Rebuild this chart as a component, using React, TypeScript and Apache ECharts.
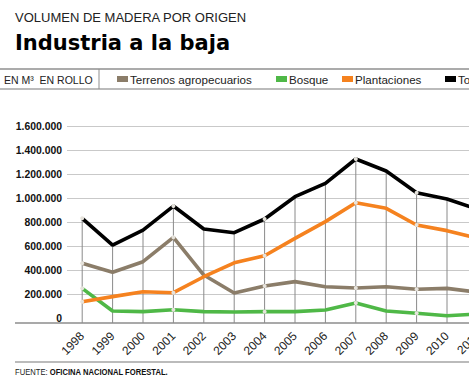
import React, { useEffect, useRef } from "react";
import * as echarts from "echarts";

const categories = ["1998", "1999", "2000", "2001", "2002", "2003", "2004", "2005", "2006", "2007", "2008", "2009", "2010", "2011"];
const terrenos = [456000, 381000, 469000, 672000, 358000, 208000, 267000, 303000, 261000, 250000, 261000, 239000, 247000, 215000];
const bosque = [247000, 58000, 53000, 69000, 53000, 50000, 53000, 53000, 67000, 125000, 58000, 39000, 19000, 33000];
const plantaciones = [136000, 178000, 219000, 211000, 344000, 460000, 519000, 664000, 803000, 961000, 914000, 775000, 728000, 665000];
const total = [831000, 608000, 733000, 933000, 742000, 711000, 825000, 1011000, 1122000, 1325000, 1225000, 1044000, 992000, 907000];
const yTicks = [0, 200000, 400000, 600000, 800000, 1000000, 1200000, 1400000, 1600000];
const markedIdx = [0, 3, 6, 9, 11];

const seriesNames = ["Terrenos agropecuarios", "Bosque", "Plantaciones", "Total"];
const seriesColors = ["#8b7d69", "#4fb847", "#f5821f", "#000000"];
const seriesData = [terrenos, bosque, plantaciones, total];
const legendLeft = [117, 276, 342, 445];

const fmt = (v: number) => String(v).replace(/\B(?=(\d{3})+(?!\d))/g, ".");

export default function App() {
  const ref = useRef<HTMLDivElement>(null);
  useEffect(() => {
    if (!ref.current) return;
    const chart = echarts.init(ref.current, null, { renderer: "svg" });
    const lineSeries = seriesNames.map((name, s) => ({
      name,
      type: "line",
      z: 3 + s,
      color: seriesColors[s],
      symbol: "circle",
      symbolSize: 4,
      showSymbol: true,
      showAllSymbol: true,
      lineStyle: { width: 3.6, color: seriesColors[s] },
      itemStyle: { color: seriesColors[s] },
      emphasis: { disabled: true },
      data: seriesData[s].map((v, i) =>
        markedIdx.includes(i)
          ? { value: v, itemStyle: { color: "#e6e3dc", borderWidth: 0 } }
          : { value: v, symbol: "none" }
      ),
    }));
    const option: any = {
      animation: false,
      backgroundColor: "#ffffff",
      textStyle: { fontFamily: "'Liberation Sans', Arial, sans-serif" },
      grid: { left: 67, right: 27.4, top: 126, bottom: 60, outerBoundsMode: "none", containLabel: false },
      legend: seriesNames.map((name, s) => ({
        data: [name],
        left: legendLeft[s],
        top: 73,
        icon: "rect",
        itemWidth: 11,
        itemHeight: 6,
        padding: 0,
        selectedMode: false,
        itemStyle: { borderWidth: 0 },
        lineStyle: { width: 0 },
        textStyle: { fontSize: 11.6, color: "#222", padding: [0, 0, 0, -3], fontFamily: "'Liberation Sans', Arial, sans-serif" },
      })),
      xAxis: {
        type: "category",
        data: categories,
        boundaryGap: true,
        offset: 5,
        axisLine: { show: false },
        axisTick: { show: false },
        splitLine: { show: false },
        axisLabel: {
          interval: 0,
          rotate: 45,
          margin: 11,
          fontSize: 12,
          color: "#222",
          fontFamily: "'Liberation Sans', Arial, sans-serif",
        },
      },
      yAxis: {
        type: "value",
        min: yTicks[0],
        max: yTicks[yTicks.length - 1],
        interval: yTicks[1] - yTicks[0],
        axisLine: { show: false },
        axisTick: { show: false },
        axisLabel: {
          margin: 5,
          fontSize: 10.4,
          fontWeight: "bold",
          color: "#111",
          formatter: (v: number) => fmt(v),
          fontFamily: "'Liberation Sans', Arial, sans-serif",
        },
        splitLine: {
          show: true,
          lineStyle: {
            color: yTicks.map((t) => (t === 0 ? "rgba(0,0,0,0)" : "#c9c9c9")),
            width: 1,
          },
        },
      },
      graphic: [
        { type: "line", shape: { x1: 0, y1: 69, x2: 520, y2: 69 }, style: { stroke: "#8f8f8f", lineWidth: 1.5 } },
        { type: "line", shape: { x1: 0, y1: 89, x2: 520, y2: 89 }, style: { stroke: "#a5a5a5", lineWidth: 1.5 } },
        { type: "line", shape: { x1: 99, y1: 69, x2: 99, y2: 89 }, style: { stroke: "#8f8f8f", lineWidth: 1 } },
        { type: "line", shape: { x1: 15, y1: 323, x2: 520, y2: 323 }, style: { stroke: "#8c8c8c", lineWidth: 1.5 }, z: 10 },
        { type: "line", shape: { x1: 15, y1: 362, x2: 520, y2: 362 }, style: { stroke: "#a5a5a5", lineWidth: 1.5 } },
        {
          type: "text",
          x: 15,
          y: 17.5,
          style: { text: "VOLUMEN DE MADERA POR ORIGEN", fontSize: 13, fill: "#222", verticalAlign: "middle", fontFamily: "'Liberation Sans', Arial, sans-serif" },
        },
        {
          type: "text",
          x: 15,
          y: 43,
          style: { text: "Industria a la baja", fontSize: 21, fontWeight: "bold", fill: "#000", verticalAlign: "middle", fontFamily: "'DejaVu Sans', sans-serif" },
        },
        {
          type: "text",
          x: 4,
          y: 80,
          style: { text: "EN M³  EN ROLLO", fontSize: 10.5, fill: "#222", verticalAlign: "middle", fontFamily: "'Liberation Sans', Arial, sans-serif" },
        },
        {
          type: "text",
          x: 15,
          y: 371.5,
          scaleX: 0.82,
          style: {
            text: "{a|FUENTE: }{b|OFICINA NACIONAL FORESTAL.}",
            verticalAlign: "middle",
            rich: {
              a: { fontSize: 9.3, fill: "#222", fontFamily: "'Liberation Sans', Arial, sans-serif" },
              b: { fontSize: 9.3, fontWeight: "bold", fill: "#111", fontFamily: "'Liberation Sans', Arial, sans-serif" },
            },
          },
        },
      ],
      series: [
        {
          type: "custom",
          name: "drop",
          z: 1,
          silent: true,
          encode: { x: 0, y: 1 },
          data: total.map((v, i) => [i, v]),
          renderItem: (params: any, api: any) => {
            const top = api.coord([api.value(0), api.value(1)]);
            const base = api.coord([api.value(0), 0]);
            return {
              type: "line",
              shape: { x1: top[0], y1: top[1], x2: top[0], y2: base[1] + 5 },
              style: { stroke: "#8a8a8a", lineWidth: 1 },
            };
          },
        },
        ...lineSeries,
      ],
    };
    chart.setOption(option);
    return () => chart.dispose();
  }, []);
  return (
    <div style={{ position: "absolute", left: 0, top: 0, width: 469, height: 378, overflow: "hidden", background: "#fff" }}>
      <div ref={ref} style={{ width: 520, height: 378 }} />
    </div>
  );
}
